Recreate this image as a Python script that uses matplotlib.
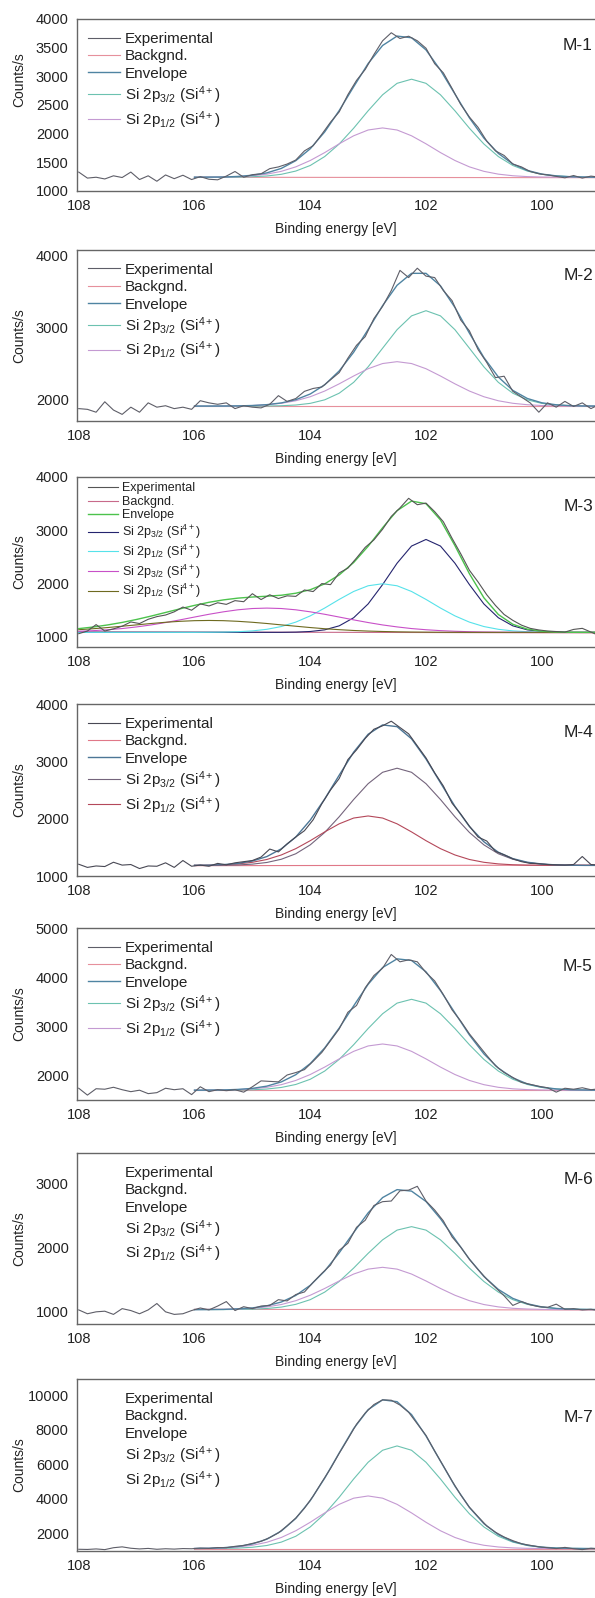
import numpy as np
import matplotlib
matplotlib.use('Agg')
import matplotlib.pyplot as plt

plt.rcParams['font.family'] = ['Liberation Sans', 'DejaVu Sans']
plt.rcParams['mathtext.fontset'] = 'custom'
plt.rcParams['mathtext.rm'] = 'Liberation Sans'
plt.rcParams['mathtext.it'] = 'Liberation Sans:italic'
plt.rcParams['mathtext.bf'] = 'Liberation Sans:bold'

# binding energy grids (eV)
exp_be = np.round(np.arange(108.0, 98.99, -0.15), 2)
fit_be = np.arange(106.0, 98.99, -0.25)
fit_be_m3 = np.arange(108.0, 98.99, -0.25)
bg_be = [106.0, 99.0]
bg_be_m3 = [108.0, 99.0]

P32 = r'Si 2p$_{\mathregular{3/2}}$ (Si$^{\mathregular{4+}}$)'
P12 = r'Si 2p$_{\mathregular{1/2}}$ (Si$^{\mathregular{4+}}$)'
labels_std = ['Experimental', 'Backgnd.', 'Envelope', P32, P12]
labels_m3 = ['Experimental', 'Backgnd.', 'Envelope', P32, P12, P32, P12]

# ---- M-1
m1_exp = [1330, 1225, 1240, 1210, 1265, 1235, 1330, 1200, 1265, 1170,
          1280, 1215, 1275, 1200, 1250, 1205, 1195, 1260, 1340, 1240,
          1285, 1300, 1390, 1420, 1470, 1540, 1700, 1790, 1990, 2200,
          2380, 2680, 2930, 3120, 3380, 3620, 3760, 3660, 3700, 3620,
          3490, 3220, 3060, 2790, 2510, 2290, 2110, 1870, 1700, 1620,
          1470, 1420, 1340, 1300, 1280, 1255, 1230, 1270, 1225, 1260, 1240]
m1_bg = [1240, 1232]
m1_env = [1240, 1242, 1244, 1254, 1275, 1316, 1394, 1529, 1737, 2031,
          2403, 2818, 3223, 3538, 3702, 3673, 3461, 3108, 2691, 2276,
          1923, 1655, 1471, 1359, 1295, 1264, 1249, 1243, 1240]
m1_p32 = [1240, 1240, 1240, 1243, 1249, 1262, 1291, 1348, 1445, 1601,
          1820, 2095, 2399, 2678, 2878, 2950, 2878, 2678, 2399, 2095,
          1820, 1601, 1445, 1348, 1291, 1262, 1249, 1243, 1240]
m1_p12 = [1240, 1242, 1244, 1251, 1266, 1294, 1343, 1421, 1532, 1670,
          1823, 1963, 2064, 2100, 2064, 1963, 1823, 1670, 1532, 1421,
          1343, 1294, 1266, 1251, 1244, 1242, 1240, 1240, 1240]

# ---- M-2
m2_exp = [1880, 1870, 1830, 1975, 1860, 1800, 1900, 1830, 1960, 1900,
          1920, 1880, 1900, 1870, 1990, 1960, 1940, 1960, 1880, 1920,
          1900, 1890, 1940, 2060, 1980, 2020, 2120, 2160, 2180, 2280,
          2380, 2580, 2760, 2880, 3130, 3300, 3520, 3800, 3700, 3830,
          3720, 3700, 3520, 3380, 3110, 2960, 2700, 2520, 2310, 2330,
          2120, 2040, 1960, 1830, 1960, 1900, 1980, 1910, 1960, 1880, 1940]
m2_bg = [1915, 1915]
m2_env = [1915, 1915, 1916, 1918, 1923, 1935, 1959, 2004, 2083, 2211,
          2403, 2663, 2979, 3310, 3593, 3759, 3759, 3586, 3285, 2928,
          2590, 2319, 2133, 2021, 1961, 1933, 1921, 1916, 1915]
m2_p32 = [1915, 1915, 1915, 1915, 1915, 1916, 1920, 1930, 1953, 2002,
          2094, 2245, 2460, 2719, 2976, 3168, 3240, 3168, 2976, 2719,
          2460, 2245, 2094, 2002, 1953, 1930, 1920, 1916, 1915]
m2_p12 = [1915, 1915, 1916, 1918, 1923, 1934, 1954, 1989, 2045, 2124,
          2224, 2333, 2434, 2506, 2532, 2506, 2434, 2333, 2224, 2124,
          2045, 1989, 1954, 1934, 1923, 1918, 1916, 1915, 1915]

# ---- M-3 (two doublets)
m3_exp = [1060, 1110, 1230, 1110, 1150, 1200, 1280, 1250, 1330, 1380,
          1410, 1470, 1560, 1500, 1620, 1580, 1640, 1610, 1680, 1660,
          1810, 1700, 1790, 1720, 1770, 1760, 1880, 1850, 2000, 1980,
          2200, 2290, 2480, 2680, 2820, 3020, 3260, 3420, 3600, 3480,
          3510, 3350, 3160, 2850, 2560, 2250, 2030, 1790, 1590, 1420,
          1310, 1220, 1160, 1130, 1110, 1100, 1090, 1140, 1160, 1090, 1020]
m3_bg = [1095, 1075]
m3_env = [1155, 1185, 1224, 1271, 1327, 1390, 1458, 1526, 1591, 1649,
          1694, 1727, 1748, 1763, 1781, 1819, 1885, 1995, 2162, 2395,
          2700, 3048, 3368, 3548, 3499, 3194, 2712, 2185, 1734, 1420,
          1236, 1145, 1106, 1091, 1086, 1085, 1085]
m3_p32_a = [1085] * 15 + [1089, 1101, 1132, 1207, 1359, 1618, 1981, 2382, 2704, 2828,
                          2704, 2382, 1981, 1618, 1359, 1207, 1132, 1101, 1089] + [1085] * 3
m3_p12_a = [1085] * 9 + [1087, 1090, 1097, 1112, 1142, 1194, 1277, 1394, 1541, 1703,
                         1852, 1959, 1997, 1959, 1852, 1703, 1541, 1394, 1277, 1194,
                         1142, 1112, 1097, 1090, 1087] + [1085] * 3
m3_p32_b = [1105, 1117, 1134, 1156, 1187, 1224, 1269, 1319, 1372, 1424,
            1470, 1508, 1532, 1540, 1532, 1508, 1470, 1424, 1372, 1319,
            1269, 1224, 1187, 1156, 1134, 1117, 1105, 1097, 1092, 1089,
            1087, 1086, 1085, 1085, 1085, 1085, 1085]
m3_p12_b = [1135, 1153, 1175, 1200, 1225, 1251, 1274, 1292, 1304, 1308,
            1304, 1292, 1274, 1251, 1225, 1200, 1175, 1153, 1135, 1120,
            1109, 1101, 1095, 1091, 1089, 1087, 1086, 1085, 1085, 1085,
            1085, 1085, 1085, 1085, 1085, 1085, 1085]

# ---- M-4
m4_exp = [1205, 1150, 1175, 1165, 1240, 1190, 1200, 1130, 1175, 1170,
          1230, 1150, 1270, 1170, 1190, 1170, 1220, 1195, 1230, 1250,
          1270, 1330, 1470, 1420, 1560, 1680, 1790, 1980, 2260, 2500,
          2700, 3030, 3200, 3400, 3560, 3620, 3700, 3590, 3480, 3270,
          3060, 2800, 2570, 2270, 2080, 1870, 1680, 1610, 1430, 1370,
          1300, 1250, 1220, 1215, 1200, 1195, 1190, 1200, 1340, 1200, 1190]
m4_bg = [1180, 1190]
m4_env = [1187, 1189, 1199, 1219, 1261, 1339, 1474, 1680, 1974, 2344,
          2758, 3160, 3472, 3635, 3605, 3393, 3041, 2626, 2215, 1863,
          1597, 1414, 1303, 1240, 1209, 1193, 1188, 1185, 1185]
m4_p32 = [1185, 1185, 1188, 1193, 1207, 1236, 1292, 1388, 1543, 1760,
          2033, 2334, 2610, 2809, 2880, 2809, 2610, 2334, 2033, 1760,
          1543, 1388, 1292, 1236, 1207, 1193, 1188, 1185, 1185]
m4_p12 = [1187, 1189, 1196, 1211, 1239, 1288, 1367, 1477, 1616, 1769,
          1910, 2011, 2047, 2011, 1910, 1769, 1616, 1477, 1367, 1288,
          1239, 1211, 1196, 1189, 1187, 1185, 1185, 1185, 1185]

# ---- M-5
m5_exp = [1730, 1590, 1720, 1710, 1750, 1700, 1660, 1690, 1620, 1640,
          1730, 1700, 1720, 1600, 1760, 1660, 1700, 1680, 1700, 1650,
          1760, 1880, 1870, 1860, 2000, 2050, 2110, 2280, 2460, 2700,
          2940, 3280, 3420, 3780, 4030, 4180, 4460, 4310, 4350, 4310,
          4090, 3920, 3640, 3330, 3100, 2840, 2620, 2400, 2190, 2050,
          1950, 1850, 1810, 1770, 1740, 1650, 1730, 1710, 1740, 1700, 1720]
m5_bg = [1690, 1690]
m5_env = [1690, 1692, 1695, 1706, 1727, 1773, 1859, 2006, 2233, 2553,
          2958, 3411, 3851, 4193, 4370, 4338, 4106, 3722, 3268, 2817,
          2432, 2140, 1941, 1819, 1751, 1716, 1699, 1694, 1690]
m5_p32 = [1690, 1690, 1690, 1694, 1699, 1714, 1746, 1807, 1913, 2081,
          2319, 2618, 2948, 3250, 3467, 3545, 3467, 3250, 2948, 2618,
          2319, 2081, 1913, 1807, 1746, 1714, 1699, 1694, 1690]
m5_p12 = [1690, 1692, 1695, 1702, 1718, 1749, 1803, 1889, 2010, 2162,
          2329, 2483, 2593, 2633, 2593, 2483, 2329, 2162, 2010, 1889,
          1803, 1749, 1718, 1702, 1695, 1692, 1690, 1690, 1690]

# ---- M-6
m6_exp = [1020, 960, 990, 1000, 950, 1040, 1010, 960, 1020, 1120,
          990, 950, 960, 1010, 1050, 1020, 1080, 1150, 1010, 1070,
          1040, 1080, 1090, 1180, 1160, 1260, 1300, 1450, 1590, 1720,
          1950, 2060, 2310, 2420, 2650, 2710, 2720, 2880, 2890, 2950,
          2720, 2580, 2410, 2160, 2000, 1810, 1650, 1500, 1370, 1240,
          1090, 1150, 1100, 1070, 1060, 1110, 1030, 1040, 1020, 1030, 1010]
m6_bg = [1030, 1018]
m6_env = [1025, 1026, 1028, 1037, 1051, 1084, 1143, 1246, 1404, 1628,
          1911, 2228, 2535, 2774, 2898, 2875, 2713, 2444, 2127, 1812,
          1543, 1340, 1200, 1116, 1067, 1043, 1031, 1028, 1025]
m6_p32 = [1025, 1025, 1025, 1028, 1031, 1042, 1064, 1107, 1180, 1298,
          1464, 1673, 1903, 2114, 2266, 2320, 2266, 2114, 1903, 1673,
          1464, 1298, 1180, 1107, 1064, 1042, 1031, 1028, 1025]
m6_p12 = [1025, 1026, 1028, 1034, 1045, 1067, 1104, 1164, 1249, 1355,
          1472, 1580, 1657, 1685, 1657, 1580, 1472, 1355, 1249, 1164,
          1104, 1067, 1045, 1034, 1028, 1026, 1025, 1025, 1025]

# ---- M-7
m7_exp = [1060, 1050, 1080, 1040, 1150, 1200, 1120, 1080, 1110, 1060,
          1090, 1070, 1100, 1090, 1130, 1110, 1160, 1150, 1230, 1280,
          1400, 1520, 1740, 2010, 2420, 2870, 3440, 4140, 4950, 5740,
          6620, 7450, 8310, 8960, 9450, 9720, 9700, 9420, 9000, 8330,
          7660, 6750, 5890, 5020, 4210, 3500, 2950, 2410, 2050, 1770,
          1560, 1380, 1290, 1200, 1150, 1100, 1170, 1090, 1040, 1120, 1080]
m7_bg = [1100, 1100]
m7_env = [1107, 1119, 1152, 1222, 1369, 1645, 2119, 2848, 3880, 5185,
          6640, 8056, 9154, 9722, 9615, 8868, 7629, 6168, 4719, 3483,
          2547, 1906, 1515, 1294, 1183, 1132, 1113, 1104, 1101]
m7_p32 = [1101, 1104, 1112, 1130, 1177, 1279, 1475, 1814, 2355, 3117,
          4075, 5134, 6104, 6800, 7050, 6800, 6104, 5134, 4075, 3117,
          2355, 1814, 1475, 1279, 1177, 1130, 1112, 1104, 1101]
m7_p12 = [1106, 1115, 1140, 1192, 1292, 1466, 1744, 2134, 2625, 3168,
          3665, 4022, 4150, 4022, 3665, 3168, 2625, 2134, 1744, 1466,
          1292, 1192, 1140, 1115, 1106, 1102, 1101, 1100, 1100]

FIG_W, FIG_H = 595, 1598
AX_LEFT = 77

cols_a = ['#5e5e68', '#e6909c', '#4f84a2', '#6cc2b0', '#c49ad2']
cols_4 = ['#484854', '#e07888', '#4c7696', '#74647c', '#b4485a']
cols_3 = ['#555555', '#c86a8a', '#4cc24c', '#24246e', '#56e2ea', '#c850c8', '#6e6a20']

panels = [
    dict(tag='M-1', top=19, bot=191, tag_dy=26, exp=m1_exp, bgx=bg_be, bg=m1_bg, fx=fit_be,
         env=m1_env, comps=[m1_p32, m1_p12], cols=cols_a, labels=labels_std,
         ylim=(1000, 4000), yticks=range(1000, 4001, 500), ylab_y=0.645, handles=True),
    dict(tag='M-2', top=250, bot=421, tag_dy=25, exp=m2_exp, bgx=bg_be, bg=m2_bg, fx=fit_be,
         env=m2_env, comps=[m2_p32, m2_p12], cols=cols_a, labels=labels_std,
         ylim=(1708, 4083), yticks=[2000, 3000, 4000], ylab_y=0.5, handles=True),
    dict(tag='M-3', top=477, bot=647, tag_dy=30, exp=m3_exp, bgx=bg_be_m3, bg=m3_bg, fx=fit_be_m3,
         env=m3_env, comps=[m3_p32_a, m3_p12_a, m3_p32_b, m3_p12_b], cols=cols_3, labels=labels_m3,
         ylim=(810, 4000), yticks=[1000, 2000, 3000, 4000], ylab_y=0.5, handles=True),
    dict(tag='M-4', top=704, bot=876, tag_dy=28, exp=m4_exp, bgx=bg_be, bg=m4_bg, fx=fit_be,
         env=m4_env, comps=[m4_p32, m4_p12], cols=cols_4, labels=labels_std,
         ylim=(1000, 4000), yticks=[1000, 2000, 3000, 4000], ylab_y=0.5, handles=True),
    dict(tag='M-5', top=928, bot=1100, tag_dy=38, exp=m5_exp, bgx=bg_be, bg=m5_bg, fx=fit_be,
         env=m5_env, comps=[m5_p32, m5_p12], cols=cols_a, labels=labels_std,
         ylim=(1490, 5000), yticks=[2000, 3000, 4000, 5000], ylab_y=0.5, handles=True),
    dict(tag='M-6', top=1153, bot=1324, tag_dy=27, exp=m6_exp, bgx=bg_be, bg=m6_bg, fx=fit_be,
         env=m6_env, comps=[m6_p32, m6_p12], cols=cols_a, labels=labels_std,
         ylim=(800, 3470), yticks=[1000, 2000, 3000], ylab_y=0.5, handles=False),
    dict(tag='M-7', top=1379, bot=1551, tag_dy=39, exp=m7_exp, bgx=bg_be, bg=m7_bg, fx=fit_be,
         env=m7_env, comps=[m7_p32, m7_p12], cols=cols_a, labels=labels_std,
         ylim=(960, 10930), yticks=range(2000, 10001, 2000), ylab_y=0.5, handles=False),
]

fig = plt.figure(figsize=(FIG_W / 100, FIG_H / 100), dpi=100)

for p in panels:
    h_px = p['bot'] - p['top']
    ax = fig.add_axes([AX_LEFT / FIG_W, 1 - p['bot'] / FIG_H,
                       (FIG_W - AX_LEFT) / FIG_W, h_px / FIG_H])
    cols = p['cols']
    ax.plot(exp_be, p['exp'], color=cols[0], lw=0.8, label=p['labels'][0], zorder=5)
    ax.plot(p['bgx'], p['bg'], color=cols[1], lw=0.8, label=p['labels'][1], zorder=2)
    ax.plot(p['fx'], p['env'], color=cols[2], lw=1.0, label=p['labels'][2], zorder=4)
    for vals, c, lab in zip(p['comps'], cols[3:], p['labels'][3:]):
        ax.plot(p['fx'], vals, color=c, lw=0.8, label=lab, zorder=3)

    ax.set_xlim(108.03, 99.08)
    ax.set_ylim(*p['ylim'])
    ax.set_xticks([108, 106, 104, 102, 100])
    ax.set_yticks(list(p['yticks']))
    ax.tick_params(length=0, labelsize=10.5, pad=6, colors='#222222')
    for s in ['left', 'bottom', 'top']:
        ax.spines[s].set_color('#666666')
        ax.spines[s].set_linewidth(1.0)
    ax.spines['right'].set_visible(False)

    ax.set_xlabel('Binding energy [eV]', fontsize=10, color='#222222')
    ax.xaxis.set_label_coords(0.5, -31 / h_px)
    ax.set_ylabel('Counts/s', fontsize=10, color='#222222')
    ax.yaxis.set_label_coords(-0.098, p['ylab_y'])

    if p['tag'] == 'M-3':
        leg = ax.legend(loc='upper left', bbox_to_anchor=(0.021, 0.968), fontsize=9,
                        frameon=False, borderpad=0, borderaxespad=0, handlelength=2.4,
                        handletextpad=0.3, labelspacing=0.12)
    else:
        leg = ax.legend(loc='upper left', bbox_to_anchor=(0.021, 0.925), fontsize=11,
                        frameon=False, borderpad=0, borderaxespad=0, handlelength=2.1,
                        handletextpad=0.33, labelspacing=0.22)
    for t in leg.get_texts():
        t.set_color('#222222')
    if not p['handles']:
        for ln in leg.get_lines():
            ln.set_visible(False)

    ax.annotate(p['tag'], xy=(1, 1), xycoords='axes fraction',
                xytext=(-2 * 0.72, -p['tag_dy'] * 0.72), textcoords='offset points',
                ha='right', va='center', fontsize=12.5, color='#222222')

fig.savefig('out.png', dpi=100)
